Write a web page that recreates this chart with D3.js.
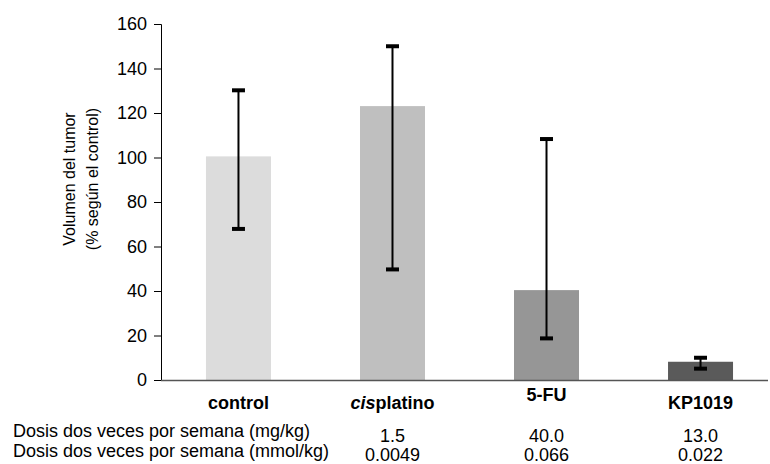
<!DOCTYPE html>
<html>
<head>
<meta charset="utf-8">
<script src="https://cdn.jsdelivr.net/npm/d3@7"></script>
<style>
  body { margin: 0; background: #fff; }
  text { font-family: "Liberation Sans", Arial, sans-serif; }
</style>
</head>
<body>
<svg id="chart" width="770" height="464"></svg>
<script>
// chart data
let groups = ["control", "cisplatino", "5-FU", "KP1019"];
let volume = [100.5, 123.1, 40.4, 8.2];
let errHigh = [130.2, 150.0, 108.3, 10.0];
let errLow = [67.9, 49.7, 18.7, 5.1];
let barColours = ["#dcdcdc", "#bfbfbf", "#969696", "#5a5a5a"];
let yTicks = [0, 20, 40, 60, 80, 100, 120, 140, 160];
let doseRowLabels = ["Dosis dos veces por semana (mg/kg)", "Dosis dos veces por semana (mmol/kg)"];
let doseMg = ["", "1.5", "40.0", "13.0"];
let doseMmol = ["", "0.0049", "0.066", "0.022"];

let svg = d3.select("#chart");

let x = d3.scaleBand()
    .domain(groups)
    .range([161, 778])
    .paddingInner(0.578)
    .paddingOuter(0.292);

let y = d3.scaleLinear()
    .domain([0, 160])
    .range([380, 24]);

// bars
svg.selectAll("rect.bar")
    .data(groups).enter()
    .append("rect")
    .attr("class", "bar")
    .attr("x", g => x(g))
    .attr("width", x.bandwidth())
    .attr("y", (g, i) => y(volume[i]))
    .attr("height", (g, i) => y(0) - y(volume[i]))
    .attr("fill", (g, i) => barColours[i]);

// error bars
let errs = svg.append("g").selectAll("g")
    .data(groups).enter()
    .append("g");
errs.append("line")
    .attr("x1", g => x(g) + x.bandwidth() / 2)
    .attr("x2", g => x(g) + x.bandwidth() / 2)
    .attr("y1", (g, i) => y(errHigh[i]))
    .attr("y2", (g, i) => y(errLow[i]))
    .attr("stroke", "#000")
    .attr("stroke-width", 2);
[errHigh, errLow].forEach(arr => {
    errs.append("line")
        .attr("x1", g => x(g) + x.bandwidth() / 2 - 6.5)
        .attr("x2", g => x(g) + x.bandwidth() / 2 + 6.5)
        .attr("y1", (g, i) => y(arr[i]))
        .attr("y2", (g, i) => y(arr[i]))
        .attr("stroke", "#000")
        .attr("stroke-width", 4);
});

// y axis
let axisY = d3.axisLeft(y).tickValues(yTicks).tickSize(7).tickPadding(7);
let gy = svg.append("g").attr("transform", "translate(161,0)").call(axisY);
gy.selectAll("text").attr("font-size", 18).attr("font-family", "Liberation Sans, Arial, sans-serif").attr("fill", "#000");
gy.selectAll("line").attr("stroke", "#000");
gy.select(".domain").attr("stroke", "#000");

// x axis line
svg.append("line")
    .attr("x1", 161).attr("x2", 768)
    .attr("y1", y(0) + 0.5).attr("y2", y(0) + 0.5)
    .attr("stroke", "#555").attr("stroke-width", 1.5);

// y title
let yt = svg.append("text")
    .attr("transform", "translate(75,179) rotate(-90)")
    .attr("text-anchor", "middle")
    .attr("font-size", 16)
    .attr("fill", "#000");
yt.append("tspan").attr("x", 0).attr("dy", 0).text("Volumen del tumor");
yt.append("tspan").attr("x", 0).attr("dy", 23).text("(% según el control)");

// category labels
let cat = svg.selectAll("text.cat")
    .data(groups).enter()
    .append("text")
    .attr("class", "cat")
    .attr("x", g => x(g) + x.bandwidth() / 2)
    .attr("y", g => g === "5-FU" ? 401 : 409)
    .attr("text-anchor", "middle")
    .attr("font-size", 18)
    .attr("font-weight", "bold")
    .attr("fill", "#000");
cat.each(function(g) {
    let t = d3.select(this);
    if (g === "cisplatino") {
        t.append("tspan").attr("font-style", "italic").text("cis");
        t.append("tspan").text("platino");
    } else {
        t.text(g);
    }
});

// dose rows
svg.selectAll("text.rowlab")
    .data(doseRowLabels).enter()
    .append("text")
    .attr("class", "rowlab")
    .attr("x", 13)
    .attr("y", (d, i) => 437 + i * 20)
    .attr("font-family", "Lato, 'Open Sans', sans-serif")
    .attr("font-size", 18)
    .attr("fill", "#000")
    .text(d => d);

[doseMg, doseMmol].forEach((row, r) => {
    svg.selectAll("text.dose" + r)
        .data(groups).enter()
        .append("text")
        .attr("class", "dose" + r)
        .attr("x", g => x(g) + x.bandwidth() / 2)
        .attr("y", 442 + r * 19)
        .attr("text-anchor", "middle")
        .attr("font-size", 18)
        .attr("fill", "#000")
        .text((g, i) => row[i]);
});
</script>
</body>
</html>
